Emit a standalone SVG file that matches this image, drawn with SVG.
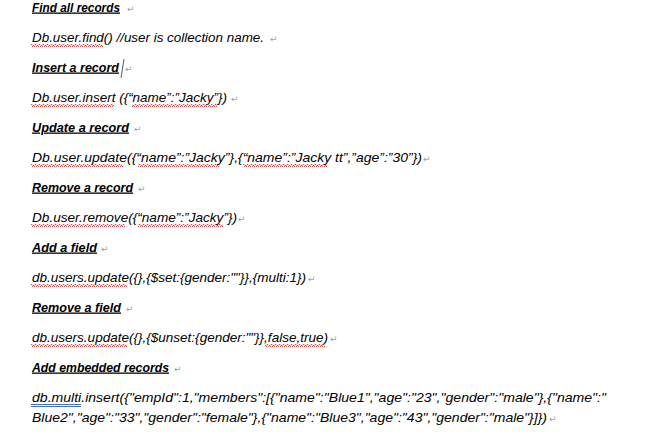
<svg xmlns="http://www.w3.org/2000/svg" width="667" height="438" viewBox="0 0 667 438">
<style>
text{font-family:"Liberation Sans",Arial,sans-serif;font-style:italic;font-size:12.8px;fill:#000}
.h{font-weight:bold;text-decoration:underline}
.pm{font-family:"DejaVu Sans",sans-serif;font-style:normal;font-size:9px;fill:#a0a0a0}
.sq{fill:url(#wave)}
</style>
<defs>
<pattern id="wave" patternUnits="userSpaceOnUse" x="0" y="0" width="4" height="3">
<path d="M0,2.5 L1,0.5 L2,0.5 L3,2.5 L4,2.5" fill="none" stroke="#e31b1b" stroke-width="0.8"/>
</pattern>
</defs>
<rect width="667" height="438" fill="#fff"/>
<g id="find">
<text class="h" x="32" y="11.5" textLength="88" lengthAdjust="spacingAndGlyphs">Find all records</text>
<text class="pm" x="127" y="11.5">↵</text>
<text x="32" y="41.5" textLength="232" lengthAdjust="spacingAndGlyphs">Db.user.find() //user is collection name.</text>
<text class="pm" x="270" y="41.5">↵</text>
<rect class="sq" x="31" y="44" width="72" height="3"/>
</g>
<g id="insert">
<text class="h" x="32" y="71.5" textLength="87" lengthAdjust="spacingAndGlyphs">Insert a record</text>
<line x1="124" y1="59" x2="121" y2="78" stroke="#333" stroke-width="0.8"/>
<text class="pm" x="125" y="71.5">↵</text>
<text x="32" y="101.5" textLength="195" lengthAdjust="spacingAndGlyphs">Db.user.insert ({“name”:”Jacky”})</text>
<text class="pm" x="231" y="101.5">↵</text>
<rect class="sq" x="31" y="104" width="83" height="3"/>
<rect class="sq" x="132" y="104" width="85" height="3"/>
</g>
<g id="update">
<text class="h" x="32" y="131.5" textLength="97" lengthAdjust="spacingAndGlyphs">Update a record</text>
<text class="pm" x="134" y="131.5">↵</text>
<text x="32" y="161.5" textLength="390" lengthAdjust="spacingAndGlyphs">Db.user.update({“name”:”Jacky”},{“name”:”Jacky tt”,”age”:”30”})</text>
<text class="pm" x="423" y="161.5">↵</text>
<rect class="sq" x="31" y="164" width="92" height="3"/>
<rect class="sq" x="138" y="164" width="82" height="3"/>
<rect class="sq" x="243" y="164" width="84" height="3"/>
</g>
<g id="remove">
<text class="h" x="32" y="191.5" textLength="101" lengthAdjust="spacingAndGlyphs">Remove a record</text>
<text class="pm" x="138" y="191.5">↵</text>
<text x="32" y="221.5" textLength="205" lengthAdjust="spacingAndGlyphs">Db.user.remove({“name”:”Jacky”})</text>
<text class="pm" x="238" y="221.5">↵</text>
<rect class="sq" x="31" y="224" width="94" height="3"/>
<rect class="sq" x="138" y="224" width="85" height="3"/>
</g>
<g id="addfield">
<text class="h" x="32" y="251.5" textLength="65" lengthAdjust="spacingAndGlyphs">Add a field</text>
<text class="pm" x="101" y="251.5">↵</text>
<text x="32" y="281.5" textLength="274" lengthAdjust="spacingAndGlyphs">db.users.update({},{$set:{gender:""}},{multi:1})</text>
<text class="pm" x="308" y="281.5">↵</text>
<rect class="sq" x="31" y="284" width="96" height="3"/>
</g>
<g id="removefield">
<text class="h" x="32" y="311.5" textLength="89" lengthAdjust="spacingAndGlyphs">Remove a field</text>
<text class="pm" x="126" y="311.5">↵</text>
<text x="32" y="341.5" textLength="296" lengthAdjust="spacingAndGlyphs">db.users.update({},{$unset:{gender:""}},false,true)</text>
<text class="pm" x="330" y="341.5">↵</text>
<rect class="sq" x="31" y="344" width="96" height="3"/>
<rect class="sq" x="265" y="344" width="60" height="3"/>
</g>
<g id="embedded">
<text class="h" x="32" y="371.5" textLength="137" lengthAdjust="spacingAndGlyphs">Add embedded records</text>
<text class="pm" x="174" y="371.5">↵</text>
<text x="32" y="401.5" textLength="574" lengthAdjust="spacingAndGlyphs">db.multi.insert({"empId":1,"members":[{"name":"Blue1","age":"23","gender":"male"},{"name":"</text>
<text x="32" y="421.5" textLength="515" lengthAdjust="spacingAndGlyphs">Blue2","age":"33","gender":"female"},{"name":"Blue3","age":"43","gender":"male"}]})</text>
<text class="pm" x="549" y="421.5">↵</text>
<line x1="31" y1="404.5" x2="81" y2="404.5" stroke="#2b5fd6" stroke-width="0.9"/>
<line x1="31" y1="406.5" x2="81" y2="406.5" stroke="#2b5fd6" stroke-width="0.9"/>
</g>
</svg>
